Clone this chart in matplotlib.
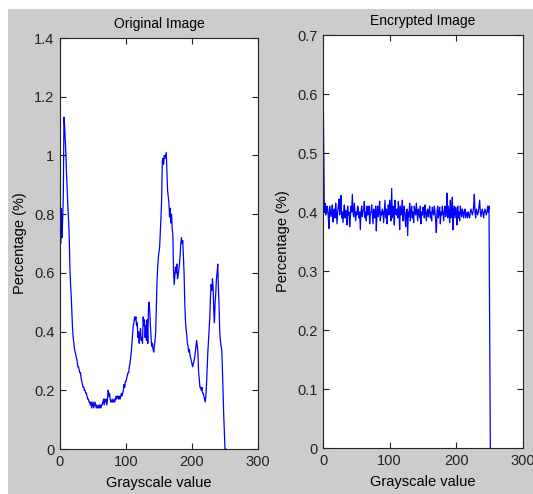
import numpy as np
import matplotlib
matplotlib.use('Agg')
import matplotlib.pyplot as plt
from matplotlib.patches import Rectangle
from matplotlib.ticker import FormatStrFormatter

plt.rcParams['font.family'] = ['Liberation Sans', 'DejaVu Sans']

# Histogram of the original image, grayscale 0..251 (percentage)
original_pct = [
    0.95, 0.70, 0.82, 0.72, 0.78, 0.86, 1.13, 1.10, 1.05, 1.00,
    0.93, 0.88, 0.82, 0.78, 0.72, 0.62, 0.56, 0.52, 0.46, 0.41,
    0.38, 0.36, 0.34, 0.33, 0.32, 0.31, 0.30, 0.28, 0.28, 0.27,
    0.26, 0.26, 0.24, 0.23, 0.22, 0.21, 0.21, 0.20, 0.20, 0.19,
    0.19, 0.18, 0.17, 0.17, 0.16, 0.16, 0.15, 0.16, 0.14, 0.15,
    0.16, 0.14, 0.15, 0.16, 0.15, 0.14, 0.15, 0.14, 0.14, 0.15,
    0.14, 0.15, 0.14, 0.15, 0.15, 0.16, 0.17, 0.15, 0.17, 0.16,
    0.17, 0.15, 0.17, 0.20, 0.18, 0.19, 0.17, 0.16, 0.16, 0.17,
    0.16, 0.16, 0.17, 0.16, 0.17, 0.18, 0.17, 0.18, 0.18, 0.17,
    0.18, 0.17, 0.18, 0.19, 0.18, 0.19, 0.20, 0.22, 0.21, 0.23,
    0.23, 0.24, 0.25, 0.26, 0.26, 0.28, 0.29, 0.31, 0.33, 0.36,
    0.39, 0.42, 0.43, 0.45, 0.44, 0.45, 0.42, 0.43, 0.38, 0.40,
    0.36, 0.39, 0.41, 0.37, 0.38, 0.36, 0.45, 0.42, 0.44, 0.38,
    0.42, 0.37, 0.44, 0.36, 0.48, 0.50, 0.47, 0.42, 0.38, 0.35,
    0.36, 0.34, 0.33, 0.35, 0.37, 0.40, 0.48, 0.57, 0.62, 0.65,
    0.67, 0.69, 0.74, 0.79, 0.85, 0.98, 0.99, 0.97, 1.00, 0.99,
    1.00, 1.01, 0.95, 0.88, 0.86, 0.84, 0.79, 0.82, 0.77, 0.80,
    0.75, 0.73, 0.61, 0.56, 0.59, 0.62, 0.60, 0.63, 0.58, 0.59,
    0.61, 0.63, 0.66, 0.70, 0.72, 0.70, 0.71, 0.65, 0.60, 0.50,
    0.44, 0.41, 0.39, 0.36, 0.35, 0.33, 0.34, 0.32, 0.31, 0.30,
    0.29, 0.28, 0.29, 0.30, 0.31, 0.33, 0.35, 0.37, 0.35, 0.33,
    0.26, 0.24, 0.21, 0.21, 0.20, 0.21, 0.19, 0.19, 0.18, 0.17,
    0.16, 0.18, 0.22, 0.28, 0.33, 0.37, 0.41, 0.45, 0.52, 0.56,
    0.54, 0.58, 0.55, 0.47, 0.43, 0.50, 0.53, 0.58, 0.60, 0.63,
    0.55, 0.49, 0.40, 0.37, 0.35, 0.34, 0.28, 0.20, 0.12, 0.06,
    0.00, 0.00,
]

# Histogram of the encrypted image, grayscale 0..251 (percentage)
encrypted_pct = [
    0.64, 0.52,
    0.40, 0.415, 0.395, 0.40, 0.41, 0.405, 0.39, 0.372, 0.41, 0.40,
    0.392, 0.40, 0.412, 0.383, 0.40, 0.405, 0.39, 0.415, 0.40, 0.38,
    0.40, 0.41, 0.422, 0.395, 0.41, 0.428, 0.39, 0.40, 0.382, 0.40,
    0.412, 0.39, 0.403, 0.40, 0.378, 0.41, 0.395, 0.40, 0.375, 0.39,
    0.41, 0.40, 0.43, 0.40, 0.392, 0.415, 0.40, 0.385, 0.40, 0.395,
    0.41, 0.405, 0.39, 0.40, 0.37, 0.40, 0.41, 0.392, 0.40, 0.405,
    0.418, 0.39, 0.40, 0.385, 0.41, 0.395, 0.40, 0.41, 0.38, 0.398,
    0.40, 0.412, 0.396, 0.38, 0.405, 0.40, 0.39, 0.41, 0.368, 0.40,
    0.41, 0.392, 0.40, 0.418, 0.385, 0.40, 0.395, 0.405, 0.40, 0.382,
    0.40, 0.42, 0.39, 0.405, 0.38, 0.40, 0.412, 0.395, 0.42, 0.40,
    0.385, 0.44, 0.39, 0.41, 0.40, 0.378, 0.42, 0.40, 0.395, 0.405,
    0.39, 0.418, 0.40, 0.37, 0.41, 0.395, 0.40, 0.42, 0.385, 0.40,
    0.41, 0.39, 0.375, 0.40, 0.405, 0.36, 0.40, 0.392, 0.415, 0.385,
    0.40, 0.41, 0.39, 0.40, 0.382, 0.41, 0.40, 0.395, 0.415, 0.40,
    0.385, 0.405, 0.40, 0.39, 0.41, 0.38, 0.40, 0.395, 0.408, 0.40,
    0.39, 0.412, 0.40, 0.385, 0.40, 0.405, 0.392, 0.40, 0.41, 0.39,
    0.40, 0.385, 0.408, 0.40, 0.395, 0.41, 0.40, 0.385, 0.365, 0.40,
    0.41, 0.39, 0.40, 0.408, 0.38, 0.40, 0.395, 0.41, 0.40, 0.385,
    0.40, 0.41, 0.392, 0.40, 0.432, 0.39, 0.41, 0.40, 0.382, 0.42,
    0.39, 0.40, 0.425, 0.37, 0.40, 0.41, 0.39, 0.408, 0.40, 0.378,
    0.41, 0.39, 0.40, 0.385, 0.41, 0.40, 0.392, 0.405, 0.40, 0.39,
    0.40, 0.405, 0.39, 0.395, 0.40, 0.39, 0.40, 0.395, 0.39, 0.40,
    0.405, 0.40, 0.395, 0.40, 0.41, 0.43, 0.40, 0.39, 0.405, 0.40,
    0.395, 0.40, 0.41, 0.42, 0.40, 0.392, 0.40, 0.405, 0.398, 0.39,
    0.40, 0.405, 0.40, 0.395, 0.40, 0.41, 0.40, 0.41,
    0.19, 0.00,
]

titles = ['Original Image', 'Encrypted Image']
y_limits = [1.4, 0.7]
y_steps = [0.2, 0.1]

fig = plt.figure(figsize=(5.33, 4.94), dpi=100, facecolor='white')
# MATLAB-style grey figure panel (a thin white strip is left on top/left)
panel = Rectangle((8 / 533, 0), 1, 1 - 9 / 494, transform=fig.transFigure,
                  facecolor='#cccccc', edgecolor='none', zorder=-10)
fig.add_artist(panel)

ax1 = fig.add_axes([60 / 533, 1 - 449 / 494, 198 / 533, 411 / 494])
ax2 = fig.add_axes([323 / 533, 1 - 448 / 494, 200 / 533, 413 / 494])

for ax, data, title, ymax, step in zip([ax1, ax2], [original_pct, encrypted_pct],
                                       titles, y_limits, y_steps):
    gray = np.arange(len(data))
    ax.plot(gray, data, color='#0000ff', linewidth=0.9)
    ax.set_xlim(0, 300)
    ax.set_ylim(0, ymax)
    ax.set_xticks([0, 100, 200, 300])
    ax.set_yticks(np.arange(0, ymax + step / 2, step))
    ax.yaxis.set_major_formatter(FormatStrFormatter('%g'))
    ax.tick_params(direction='in', length=4, width=0.8, top=True, right=True,
                   labelsize=10.5, colors='#222222', pad=4)
    for sp in ax.spines.values():
        sp.set_linewidth(0.8)
        sp.set_color('#222222')
    ax.set_title(title, fontsize=10, pad=7)
    ax.set_xlabel('Grayscale value', fontsize=10.5, labelpad=5)
    ax.set_ylabel('Percentage (%)', fontsize=10.5, labelpad=5)

plt.savefig('out.png', dpi=100, facecolor=fig.get_facecolor())
